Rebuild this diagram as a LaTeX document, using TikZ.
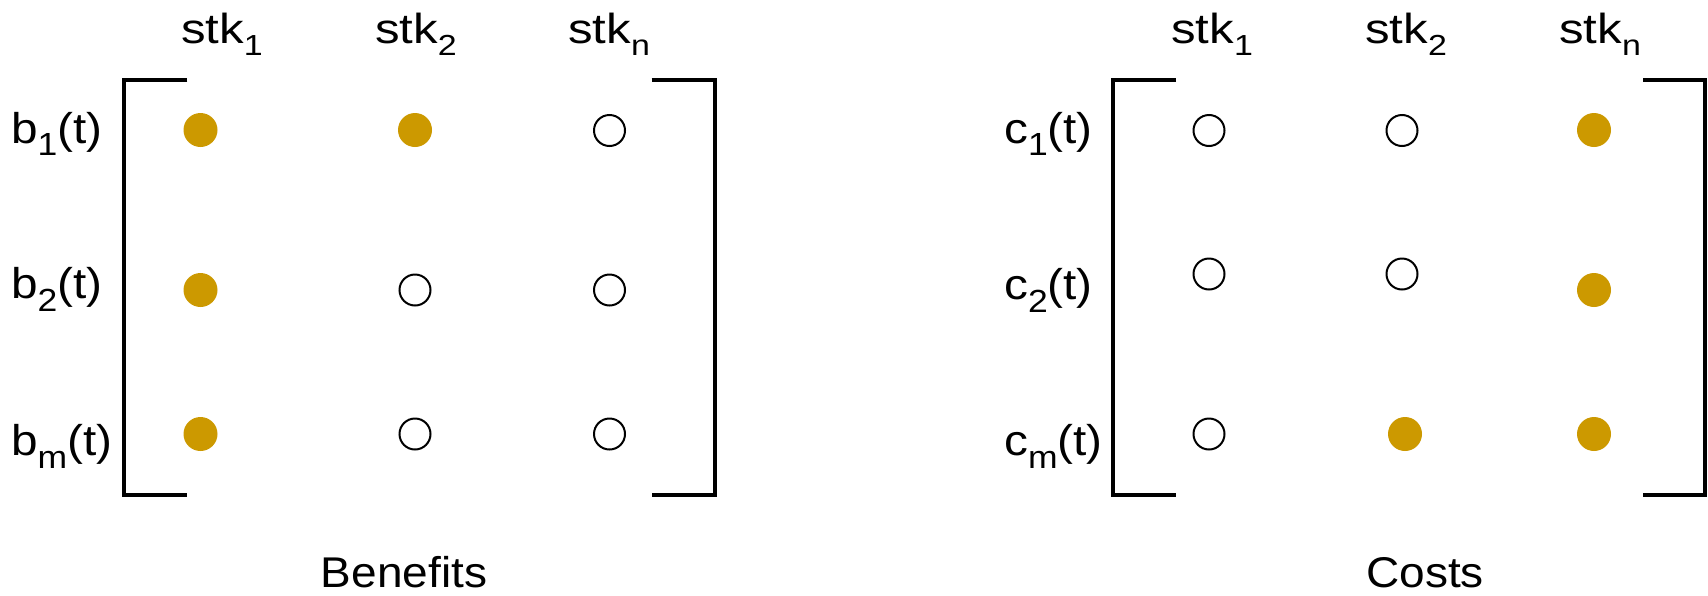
\documentclass[tikz,border=0pt]{standalone}
\usepackage{fontspec}
\setmainfont[FakeStretch=1.07]{Liberation Sans}
\newfontfamily\hdrfont[FakeStretch=1.17]{Liberation Sans}
\newfontfamily\rowfont[FakeStretch=1.11]{Liberation Sans}
\newcommand\lsub[3]{\raisebox{-#1pt}{\fontsize{#2}{#2}\selectfont #3}}
\definecolor{gold}{RGB}{204,153,0}
\tikzset{
  fdot/.style={circle, fill=gold, inner sep=0pt, minimum size=34pt},
  odot/.style={circle, draw=black, line width=2pt, fill=white, inner sep=0pt, minimum size=31pt},
  hdr/.style={anchor=base west, inner sep=0pt, font=\hdrfont\fontsize{42}{42}\selectfont},
  rlab/.style={anchor=base west, inner sep=0pt, font=\rowfont\fontsize{43}{43}\selectfont},
  ttl/.style={anchor=base, inner sep=0pt, font=\fontsize{43}{43}\selectfont},
  brk/.style={line width=4pt, line join=miter}
}
\begin{document}
\begin{tikzpicture}[x=1pt,y=-1pt]
\useasboundingbox (0,0) rectangle (1708,595);
% ---------- Benefits matrix ----------
\coordinate (bl1) at (187.3,79.7);
\coordinate (bl2) at (123.7,495);
\coordinate (bl3) at (187.3,495);
\coordinate (br1) at (651.7,79.7);
\coordinate (br2) at (715.3,495);
\coordinate (br3) at (651.7,495);
\draw[brk] (bl1) -| (bl2) -- (bl3);
\draw[brk] (br1) -| (br2) -- (br3);

\node[hdr] (bh1) at (181,43) {stk\lsub{12}{29}{1}};
\node[hdr] (bh2) at (375,43) {stk\lsub{12}{29}{2}};
\node[hdr] (bh3) at (568,43) {stk\lsub{12}{29}{n}};

\node[rlab] (br1l) at (11,143) {b\lsub{12}{32}{1}(t)};
\node[rlab] (br2l) at (11,298) {b\lsub{13}{32}{2}(t)};
\node[rlab] (br3l) at (11,455) {b\lsub{13}{32}{m}(t)};

\node[fdot] (b11) at (200.5,130) {};
\node[fdot] (b12) at (415,130) {};
\node[odot] (b13) at (609.5,130.5) {};
\node[fdot] (b21) at (200.5,290) {};
\node[odot] (b22) at (415,290) {};
\node[odot] (b23) at (609.5,290) {};
\node[fdot] (b31) at (200.5,434) {};
\node[odot] (b32) at (415,434) {};
\node[odot] (b33) at (609.5,434) {};

\node[ttl] (bt) at (404,587) {Benefits};

% ---------- Costs matrix ----------
\coordinate (cl1) at (1176,79.7);
\coordinate (cl2) at (1113,495);
\coordinate (cl3) at (1176,495);
\coordinate (cr1) at (1643,79.7);
\coordinate (cr2) at (1705,495);
\coordinate (cr3) at (1643,495);
\draw[brk] (cl1) -| (cl2) -- (cl3);
\draw[brk] (cr1) -| (cr2) -- (cr3);

\node[hdr] (ch1) at (1171,43) {stk\lsub{12}{29}{1}};
\node[hdr] (ch2) at (1365,43) {stk\lsub{12}{29}{2}};
\node[hdr] (ch3) at (1559,43) {stk\lsub{12}{29}{n}};

\node[rlab] (cr1l) at (1004,143) {c\lsub{12}{32}{1}(t)};
\node[rlab] (cr2l) at (1004,299) {c\lsub{13}{32}{2}(t)};
\node[rlab] (cr3l) at (1004,455) {c\lsub{13}{32}{m}(t)};

\node[odot] (c11) at (1209,130.5) {};
\node[odot] (c12) at (1402,130.5) {};
\node[fdot] (c13) at (1594,130) {};
\node[odot] (c21) at (1209,274) {};
\node[odot] (c22) at (1402,274) {};
\node[fdot] (c23) at (1594,290) {};
\node[odot] (c31) at (1209,434) {};
\node[fdot] (c32) at (1405,434) {};
\node[fdot] (c33) at (1594,434) {};

\node[ttl] (ct) at (1425,587) {Costs};
\end{tikzpicture}
\end{document}
